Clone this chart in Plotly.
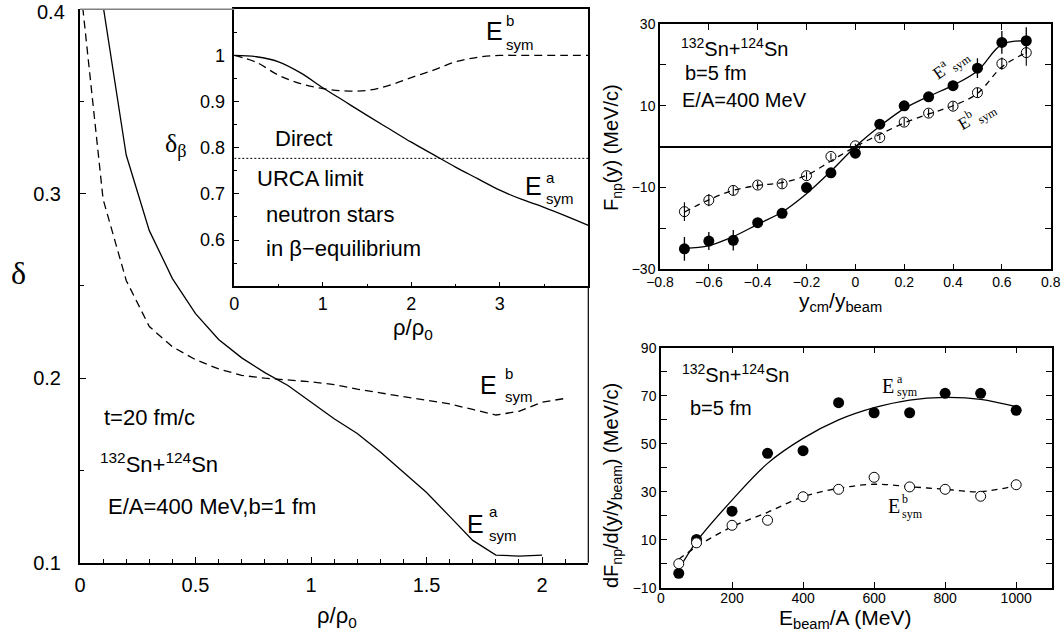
import plotly.graph_objects as go

W, H = 1064, 634
SANS = "Liberation Sans, Arial, sans-serif"
SERIF = "Liberation Serif, Times New Roman, serif"

# ---------------- data ----------------
# main panel: delta vs rho/rho0 at t=20 fm/c
rho_a = [0.1, 0.2, 0.3, 0.4, 0.5, 0.6, 0.7, 0.8, 0.9, 1.0, 1.1, 1.2, 1.3, 1.4, 1.5, 1.6, 1.7, 1.8, 1.9, 2.0]
delta_a = [0.402, 0.321, 0.280, 0.254, 0.235, 0.221, 0.211, 0.203, 0.196, 0.187, 0.178, 0.170, 0.160,
           0.149, 0.138, 0.125, 0.112, 0.104, 0.1035, 0.104]
rho_b = [0.0, 0.1, 0.2, 0.3, 0.4, 0.5, 0.6, 0.7, 0.8, 0.9, 1.0, 1.1, 1.2, 1.3, 1.4, 1.5, 1.6, 1.7, 1.8,
         1.9, 2.0, 2.1]
delta_b = [0.415, 0.297, 0.253, 0.228, 0.217, 0.210, 0.205, 0.2015, 0.200, 0.199, 0.198, 0.1965, 0.194,
           0.192, 0.190, 0.188, 0.186, 0.183, 0.180, 0.182, 0.187, 0.189]

# inset: delta_beta in neutron stars
rho_ns = [0.0, 0.25, 0.5, 0.75, 1.0, 1.25, 1.5, 1.75, 2.0, 2.25, 2.5, 2.75, 3.0, 3.25, 3.5, 3.75, 4.0]
dbeta_a = [1.0, 0.997, 0.986, 0.962, 0.930, 0.900, 0.870, 0.841, 0.812, 0.785, 0.758, 0.733, 0.708,
           0.688, 0.671, 0.652, 0.632]
dbeta_b = [1.0, 0.985, 0.957, 0.939, 0.928, 0.923, 0.924, 0.935, 0.952, 0.968, 0.986, 0.996, 1.0,
           1.0, 1.0, 1.0, 1.0]
urca_limit = 0.777

# top right: F_np(y)
y_rap = [-0.7, -0.6, -0.5, -0.4, -0.3, -0.2, -0.1, 0.0, 0.1, 0.2, 0.3, 0.4, 0.5, 0.6, 0.7]
fnp_a = [-25.0, -23.1, -22.9, -18.6, -16.3, -10.0, -6.4, -1.6, 5.5, 10.0, 12.2, 14.9, 19.2, 25.5, 25.9]
fnp_a_err = [2.9, 2.2, 2.5, 1.0, 1.0, 1.0, 0.5, 0.5, 0.5, 0.8, 0.8, 1.2, 2.4, 2.8, 3.3]
fnp_b = [-15.9, -13.1, -10.7, -9.4, -9.1, -7.1, -2.4, 0.2, 2.2, 6.0, 8.2, 9.9, 13.2, 20.3, 23.0]
fnp_b_err = [2.3, 1.5, 1.2, 1.0, 1.0, 1.0, 0.8, 0.5, 0.5, 1.0, 1.0, 1.0, 1.2, 1.5, 3.2]
fnp_a_fit = [-24.9, -24.2, -22.0, -19.0, -16.0, -11.5, -6.0, 0.0, 5.0, 9.3, 12.3, 15.0, 18.5, 25.0, 25.9]
fnp_b_fit = [-16.0, -13.0, -10.7, -9.5, -8.8, -7.0, -3.5, 0.0, 3.0, 5.8, 8.0, 10.0, 13.0, 19.5, 23.0]

# bottom right: slope vs beam energy
e_beam = [50, 100, 200, 300, 400, 500, 600, 700, 800, 900, 1000]
slope_a = [-4.0, 10.1, 21.9, 46.0, 47.1, 67.1, 62.9, 62.9, 71.0, 71.0, 63.9]
slope_b = [0.0, 8.7, 16.0, 18.1, 27.9, 31.0, 36.0, 32.0, 31.0, 28.1, 32.9]
slope_a_fit = [-2.4, 9.2, 26.5, 41.8, 52.2, 59.9, 65.0, 68.2, 69.3, 68.5, 65.4]
slope_b_fit = [1.8, 7.1, 15.4, 21.4, 27.9, 31.4, 33.1, 32.1, 31.0, 30.0, 32.6]

# ---------------- figure ----------------
fig = go.Figure()
blk = "black"

# main
fig.add_trace(go.Scatter(x=rho_a, y=delta_a, mode="lines", line=dict(color=blk, width=1.3),
                         xaxis="x", yaxis="y"))
fig.add_trace(go.Scatter(x=rho_b, y=delta_b, mode="lines", line=dict(color=blk, width=1.3, dash="8px,5px"),
                         xaxis="x", yaxis="y"))
# inset
fig.add_trace(go.Scatter(x=rho_ns, y=dbeta_a, mode="lines", line=dict(color=blk, width=1.3, shape="spline"),
                         xaxis="x2", yaxis="y2"))
fig.add_trace(go.Scatter(x=rho_ns, y=dbeta_b, mode="lines",
                         line=dict(color=blk, width=1.3, shape="spline", dash="8px,5px"),
                         xaxis="x2", yaxis="y2"))
fig.add_trace(go.Scatter(x=[0, 4], y=[urca_limit, urca_limit], mode="lines",
                         line=dict(color=blk, width=1, dash="2px,2px"), xaxis="x2", yaxis="y2"))
# top right
fig.add_trace(go.Scatter(x=y_rap, y=fnp_a_fit, mode="lines", line=dict(color=blk, width=1.3, shape="spline"),
                         xaxis="x3", yaxis="y3"))
fig.add_trace(go.Scatter(x=y_rap, y=fnp_b_fit, mode="lines",
                         line=dict(color=blk, width=1.3, shape="spline", dash="6px,5px"),
                         xaxis="x3", yaxis="y3"))
fig.add_trace(go.Scatter(x=y_rap, y=fnp_a, mode="markers", marker=dict(color=blk, size=11, symbol="circle"),
                         error_y=dict(type="data", array=fnp_a_err, width=0, thickness=1.3, color=blk),
                         xaxis="x3", yaxis="y3"))
fig.add_trace(go.Scatter(x=y_rap, y=fnp_b, mode="markers",
                         marker=dict(color=blk, size=10, symbol="circle-open", line=dict(width=1, color=blk)),
                         error_y=dict(type="data", array=fnp_b_err, width=0, thickness=1.1, color=blk),
                         xaxis="x3", yaxis="y3"))
# bottom right
fig.add_trace(go.Scatter(x=e_beam, y=slope_a_fit, mode="lines", line=dict(color=blk, width=1.3, shape="spline"),
                         xaxis="x4", yaxis="y4"))
fig.add_trace(go.Scatter(x=e_beam, y=slope_b_fit, mode="lines",
                         line=dict(color=blk, width=1.3, shape="spline", dash="6px,5px"),
                         xaxis="x4", yaxis="y4"))
fig.add_trace(go.Scatter(x=e_beam, y=slope_a, mode="markers", marker=dict(color=blk, size=11, symbol="circle"),
                         xaxis="x4", yaxis="y4"))
fig.add_trace(go.Scatter(x=e_beam, y=slope_b, mode="markers",
                         marker=dict(color="white", size=10, symbol="circle", line=dict(width=1, color=blk)),
                         xaxis="x4", yaxis="y4"))


def px2x(px):
    return px / W


def py2y(py):
    return 1 - py / H


def axis(domain, rng, tickvals, ticktext, anchor, minor_vals, lw=1.5, fs=14, mirror="ticks",
         ticklen=6, standoff=None, showline=True):
    d = dict(domain=domain, range=rng, anchor=anchor, showgrid=False, zeroline=False, automargin=False,
             showline=showline, linecolor=blk, linewidth=lw, mirror=mirror,
             ticks="inside", ticklen=ticklen, tickwidth=1, tickcolor=blk,
             tickmode="array", tickvals=tickvals, ticktext=ticktext, ticklabeloverflow="allow",
             tickfont=dict(family=SANS, size=fs, color=blk),
             minor=dict(tickmode="array", tickvals=minor_vals, ticks="inside", ticklen=ticklen - 2,
                        tickwidth=1, tickcolor=blk))
    if standoff is not None:
        d["ticklabelstandoff"] = standoff
    return d


def fmt(v):
    s = ("%g" % v)
    return s.replace("-", "\u2212")


# main axes (the top label 0.4 is drawn as an annotation so it stays inside the page)
mx = [0, 0.5, 1, 1.5, 2]
my = [0.1, 0.2, 0.3, 0.4]
fig.update_layout(
    xaxis=axis([px2x(80), px2x(588.3)], [0, 2.2], mx, [fmt(v) for v in mx], "y",
               [round(0.1 * i, 2) for i in range(23)], lw=2, fs=20, mirror=False, standoff=3),
    yaxis=axis([py2y(562.7), py2y(9.2)], [0.0999, 0.4001], my,
               [fmt(v) if v < 0.35 else "" for v in my], "x",
               [0.15, 0.25, 0.35], lw=2, fs=20, mirror=False, standoff=13),
)
ix = [0, 1, 2, 3]
iy = [0.6, 0.7, 0.8, 0.9, 1.0]
fig.update_layout(
    xaxis2=axis([px2x(234.3), px2x(588.3)], [0, 4], ix, [fmt(v) for v in ix], "y2",
                [0.5, 1.5, 2.5, 3.5], lw=1.5, fs=18, mirror=True, ticklen=5, standoff=0),
    yaxis2=axis([py2y(286.25), py2y(9.2)], [0.5, 1.1], iy, [fmt(v) for v in iy], "x2",
                [0.55, 0.65, 0.75, 0.85, 0.95, 1.05], lw=1.5, fs=18, mirror=True, ticklen=5, standoff=4),
)
tx = [-0.8, -0.6, -0.4, -0.2, 0, 0.2, 0.4, 0.6, 0.8]
ty = [-30, -20, -10, 0, 10, 20, 30]
fig.update_layout(
    xaxis3=axis([px2x(660), px2x(1050.7)], [-0.8, 0.8], tx, [fmt(v) for v in tx], "y3",
                [], lw=1.5, fs=14, standoff=-1),
    yaxis3=axis([py2y(269.3), py2y(24)], [-30, 30], ty,
                [fmt(v) if v in (-30, -10, 10, 30) else "" for v in ty], "x3", [], lw=1.5, fs=14),
)
fig.update_layout(yaxis3=dict(zeroline=True, zerolinecolor=blk, zerolinewidth=1.5))
bx = [0, 200, 400, 600, 800, 1000]
by = [-10, 0, 10, 20, 30, 40, 50, 60, 70, 80, 90]
fig.update_layout(
    xaxis4=axis([px2x(661), px2x(1051.7)], [0, 1100], bx, [fmt(v) for v in bx], "y4",
                [], lw=1.5, fs=14, standoff=-3),
    yaxis4=axis([py2y(587.7), py2y(347.7)], [-10, 90], by,
                [fmt(v) if v in (-10, 10, 30, 50, 70, 90) else "" for v in by], "x4", [], lw=1.5, fs=14),
)

# extra frame lines for the main panel
shapes = [
    dict(type="line", xref="paper", yref="paper", x0=px2x(80), x1=px2x(234.3), y0=py2y(9.2), y1=py2y(9.2),
         line=dict(color="#808080", width=1.5)),
    dict(type="line", xref="paper", yref="paper", x0=px2x(588.3), x1=px2x(588.3), y0=py2y(562.7),
         y1=py2y(286.25), line=dict(color=blk, width=1.2)),
]


def ann(text, px, py, size, family=SANS, xanchor="left", yanchor="middle", angle=0):
    return dict(text=text, x=px2x(px), y=py2y(py), xref="paper", yref="paper", showarrow=False,
                font=dict(size=size, family=family, color=blk), xanchor=xanchor, yanchor=yanchor,
                textangle=angle, borderpad=0)


def esym(xe, ye, sup, xs, ysup, ysub, fe, fs, family=SANS):
    return [ann("E", xe, ye, fe, family), ann(sup, xs, ysup, fs, family), ann("sym", xs, ysub, fs, family)]


annotations = [
    ann(fmt(my[-1]), 66, 12, 20, xanchor="right"),
    ann("\u03b4", 18, 273, 32, SERIF, xanchor="center"),
    ann("\u03c1/\u03c1<sub>0</sub>", 337, 617, 22, xanchor="center"),
    ann("t=20 fm/c", 103, 417, 22),
    ann("<sup>132</sup>Sn+<sup>124</sup>Sn", 99, 463, 22),
    ann("E/A=400 MeV,b=1 fm", 107, 506, 22),
    # inset
    ann("\u03b4<sub>\u03b2</sub>", 164, 145, 26, SERIF),
    ann("\u03c1/\u03c1<sub>0</sub>", 413, 329, 22, xanchor="center"),
    ann("Direct", 274, 139, 22),
    ann("URCA limit", 256, 178, 22),
    ann("neutron stars", 265, 214, 22),
    ann("in \u03b2\u2212equilibrium", 265, 248, 22),
    # top right
    ann("F<sub>np</sub>(y) (MeV/c)", 612, 148, 20, angle=-90, xanchor="center"),
    ann("y<sub>cm</sub>/y<sub>beam</sub>", 840, 302, 21, xanchor="center"),
    ann("<sup>132</sup>Sn+<sup>124</sup>Sn", 680, 48, 20),
    ann("b=5 fm", 684, 73, 20),
    ann("E/A=400 MeV", 681, 100, 20),
    ann("E<sup>a</sup><sub> sym</sub>", 950, 64, 17, SERIF, xanchor="center", angle=-35),
    ann("E<sup>b</sup><sub> sym</sub>", 977, 116, 17, SERIF, xanchor="center", angle=-30),
    # bottom right
    ann("dF<sub>np</sub>/d(y/y<sub>beam</sub>) (MeV/c)", 612, 486, 20, angle=-90, xanchor="center"),
    ann("E<sub>beam</sub>/A (MeV)", 845, 619, 21, xanchor="center"),
    ann("<sup>132</sup>Sn+<sup>124</sup>Sn", 681, 373, 20),
    ann("b=5 fm", 689, 408, 20),
]
annotations += esym(479, 385, "b", 504, 373, 396, 25, 15)
annotations += esym(466, 524, "a", 488, 511, 535, 25, 15)
annotations += esym(485, 31, "b", 505, 20, 44, 25, 15)
annotations += esym(524, 186, "a", 545, 177, 198, 25, 15)
annotations += esym(881, 386, "a", 896, 379, 392, 20, 12, SERIF)
annotations += esym(887, 506, "b", 901, 499, 514, 20, 12, SERIF)

fig.update_layout(
    template="none",
    width=W, height=H, margin=dict(l=0, r=0, t=0, b=0, autoexpand=False),
    paper_bgcolor="white", plot_bgcolor="white", showlegend=False,
    shapes=shapes, annotations=annotations,
    font=dict(family=SANS, color=blk),
)

fig.write_html("out.html")
